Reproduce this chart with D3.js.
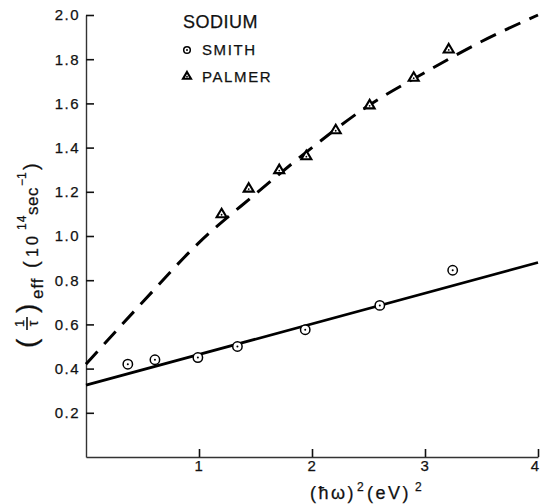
<!DOCTYPE html>
<html>
<head>
<meta charset="utf-8">
<script src="https://cdn.jsdelivr.net/npm/d3@7"></script>
<style>
  body { margin: 0; background: #fff; }
  svg text { font-family: "Liberation Sans", Arial, sans-serif; fill: #111; stroke: #111; stroke-width: 0.25px; }
</style>
</head>
<body>
<div id="chart"></div>
<script>
// values
const smithX = [0.37, 0.61, 0.99, 1.34, 1.94, 2.60, 3.245];
const smithY = [0.42, 0.44, 0.45, 0.50, 0.576, 0.686, 0.845];
const palmerX = [1.20, 1.44, 1.71, 1.95, 2.21, 2.51, 2.90, 3.21];
const palmerY = [1.10, 1.216, 1.30, 1.363, 1.48, 1.593, 1.718, 1.846];
const fitX = [0, 4];
const fitY = [0.325, 0.88];
const curveX = [0, 0.5, 1.0, 1.5, 2.0, 2.5, 3.0, 3.5, 4.0];
const curveY = [0.42, 0.70, 0.97, 1.19, 1.40, 1.59, 1.74, 1.88, 2.0];
const xTicks = [1, 2, 3, 4];
const yTicks = [0.2, 0.4, 0.6, 0.8, 1.0, 1.2, 1.4, 1.6, 1.8, 2.0];
const legendNames = ["SMITH", "PALMER"];

const W = 540, H = 504;
const svg = d3.select("#chart").append("svg").attr("width", W).attr("height", H);

const x = d3.scaleLinear().domain([0, 4]).range([86, 538]);
const y = d3.scaleLinear().domain([0, 2]).range([457, 15]);

// axes
const yAxis = svg.append("g")
    .attr("transform", `translate(${x(0)},0)`)
    .call(d3.axisLeft(y).tickValues(yTicks).tickFormat(d3.format(".1f"))
        .tickSizeInner(-8).tickSizeOuter(0).tickPadding(6));
const xAxis = svg.append("g")
    .attr("transform", `translate(0,${y(0)})`)
    .call(d3.axisBottom(x).tickValues(xTicks).tickFormat(d3.format("d"))
        .tickSizeInner(-8).tickSizeOuter(0).tickPadding(3));
[xAxis, yAxis].forEach(function (a) {
    a.select(".domain").attr("stroke", "#333").attr("stroke-width", 1.4);
    a.selectAll(".tick line").attr("stroke", "#111").attr("stroke-width", 1.6);
    a.selectAll(".tick text")
        .style("font-family", "Liberation Sans, Arial, sans-serif")
        .style("font-size", "15px")
        .style("letter-spacing", "1.5px")
        .attr("fill", "#111");
});
// last x label sits at the right edge; keep it inside the frame
xAxis.selectAll(".tick text").filter(d => d === 4)
    .attr("text-anchor", "end").attr("x", 2);

// lines
const line = d3.line().x(d => x(d[0])).y(d => y(d[1]));
svg.append("path")
    .datum(fitX.map((v, i) => [v, fitY[i]]))
    .attr("d", line)
    .attr("fill", "none").attr("stroke", "#000").attr("stroke-width", 2.8);

svg.append("path")
    .datum(curveX.map((v, i) => [v, curveY[i]]))
    .attr("d", line.curve(d3.curveMonotoneX))
    .attr("fill", "none").attr("stroke", "#000").attr("stroke-width", 3)
    .attr("stroke-dasharray", "17,10");

// markers
function circleMark(g, cx, cy, r) {
    g.append("circle").attr("cx", cx).attr("cy", cy).attr("r", r)
        .attr("fill", "#fff").attr("stroke", "#000").attr("stroke-width", 1.5);
    g.append("circle").attr("cx", cx).attr("cy", cy).attr("r", 1).attr("fill", "#000");
}
function triMark(g, cx, cy, s) {
    const h = s * 0.85;
    g.append("path")
        .attr("d", `M${cx},${cy - h * 0.6}L${cx + s / 2},${cy + h * 0.4}L${cx - s / 2},${cy + h * 0.4}Z`)
        .attr("fill", "#fff").attr("stroke", "#000").attr("stroke-width", 2.1)
        .attr("stroke-linejoin", "miter");
    g.append("circle").attr("cx", cx).attr("cy", cy + h * 0.1).attr("r", 0.9).attr("fill", "#000");
}

const gm = svg.append("g");
smithX.forEach((v, i) => circleMark(gm, x(v), y(smithY[i]), 4.7));
palmerX.forEach((v, i) => triMark(gm, x(v), y(palmerY[i]), 10));

// legend
svg.append("text").attr("x", 183).attr("y", 28)
    .style("font-size", "18px").style("letter-spacing", "0.5px").text("SODIUM");
circleMark(svg, 187, 50, 3.3);
triMark(svg, 187, 76, 8);
svg.selectAll(".leg").data(legendNames).enter().append("text")
    .attr("class", "leg")
    .attr("x", 202).attr("y", (d, i) => 55 + i * 27)
    .style("font-size", "15px").style("letter-spacing", "1.6px")
    .text(d => d);

// y axis label
const yl = svg.append("g").attr("transform", "translate(38,256) rotate(-90)");
yl.append("text").attr("x", -92).attr("y", -2).style("font-size", "28px").text("(");
yl.append("text").attr("x", -67.5).attr("y", -14).attr("text-anchor", "middle").style("font-size", "13px").text("1");
yl.append("line").attr("x1", -74).attr("x2", -61).attr("y1", -11).attr("y2", -11)
    .attr("stroke", "#111").attr("stroke-width", 1.6);
yl.append("text").attr("x", -67.5).attr("y", 0).attr("text-anchor", "middle").style("font-size", "14px").text("τ");
yl.append("text").attr("x", -57).attr("y", -2).style("font-size", "28px").text(")");
yl.append("text").attr("x", -43).attr("y", 5).style("font-size", "17px").style("letter-spacing", "1px").text("eff");
yl.append("text").attr("x", -12).attr("y", 0).style("font-size", "20px").text("(");
yl.append("text").attr("x", -1).attr("y", 0).style("font-size", "16px").style("letter-spacing", "3px").text("10");
yl.append("text").attr("x", 26).attr("y", -12).style("font-size", "12px").style("letter-spacing", "1px").text("14");
yl.append("text").attr("x", 41).attr("y", 0).style("font-size", "17px").style("letter-spacing", "0.5px").text("sec");
yl.append("text").attr("x", 70).attr("y", -12).style("font-size", "12px").text("−1");
yl.append("text").attr("x", 86).attr("y", 0).style("font-size", "20px").text(")");

// x axis label
const xl = svg.append("g");
xl.append("text").attr("x", 310).attr("y", 499).style("font-size", "18px").style("letter-spacing", "2.5px").text("(ħω)");
xl.append("text").attr("x", 357).attr("y", 491).style("font-size", "12px").text("2");
xl.append("text").attr("x", 367).attr("y", 499).style("font-size", "18px").style("letter-spacing", "2.5px").text("(eV)");
xl.append("text").attr("x", 415).attr("y", 491).style("font-size", "12px").text("2");
</script>
</body>
</html>
